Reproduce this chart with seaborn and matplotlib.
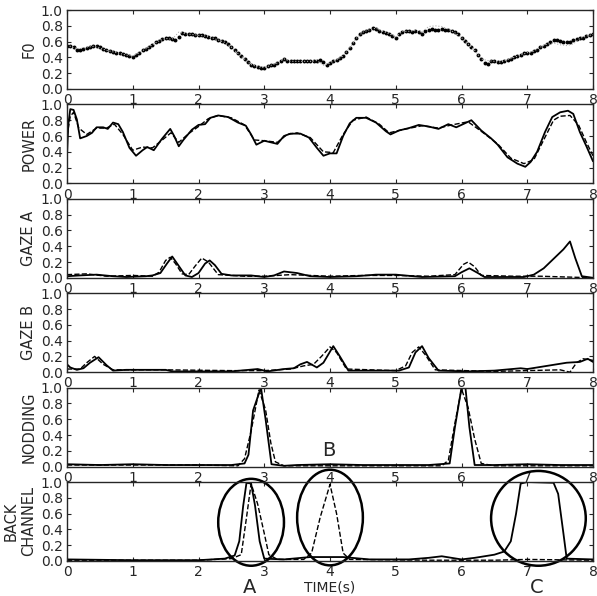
import numpy as np
import matplotlib
matplotlib.use('Agg')
import matplotlib.pyplot as plt
from matplotlib.patches import Ellipse
import seaborn as sns

# F0: measured (dots, every 0.05 s) and predicted (every 0.1 s)
f0_real = [0.55, 0.55, 0.53, 0.50, 0.50, 0.51, 0.52, 0.53, 0.54, 0.54,
           0.53, 0.51, 0.49, 0.48, 0.47, 0.46, 0.45, 0.44, 0.43, 0.42,
           0.41, 0.43, 0.46, 0.49, 0.51, 0.53, 0.56, 0.59, 0.61, 0.63,
           0.64, 0.64, 0.63, 0.62, 0.66, 0.71, 0.70, 0.69, 0.69, 0.68,
           0.68, 0.68, 0.67, 0.66, 0.65, 0.64, 0.62, 0.61, 0.59, 0.57,
           0.53, 0.49, 0.45, 0.42, 0.38, 0.34, 0.31, 0.29, 0.28, 0.26,
           0.27, 0.29, 0.30, 0.31, 0.33, 0.36, 0.38, 0.36, 0.35, 0.35,
           0.35, 0.35, 0.35, 0.35, 0.35, 0.35, 0.36, 0.37, 0.34, 0.31,
           0.33, 0.35, 0.37, 0.39, 0.42, 0.47, 0.52, 0.58, 0.64, 0.69,
           0.72, 0.73, 0.75, 0.77, 0.76, 0.74, 0.72, 0.71, 0.69, 0.67,
           0.64, 0.70, 0.72, 0.73, 0.73, 0.72, 0.73, 0.72, 0.70, 0.73,
           0.75, 0.76, 0.75, 0.75, 0.76, 0.75, 0.75, 0.74, 0.72, 0.69,
           0.65, 0.61, 0.57, 0.53, 0.49, 0.43, 0.38, 0.33, 0.32, 0.35,
           0.35, 0.34, 0.34, 0.35, 0.37, 0.38, 0.40, 0.42, 0.43, 0.45,
           0.45, 0.46, 0.48, 0.50, 0.53, 0.55, 0.57, 0.60, 0.62, 0.62,
           0.61, 0.60, 0.59, 0.60, 0.62, 0.63, 0.64, 0.65, 0.67, 0.68,
           0.69]
f0_pred = [0.56, 0.52, 0.51, 0.53, 0.54, 0.52, 0.49, 0.47, 0.45, 0.43,
           0.42, 0.46, 0.51, 0.56, 0.61, 0.64, 0.63, 0.72, 0.70, 0.69,
           0.68, 0.67, 0.65, 0.62, 0.59, 0.53, 0.45, 0.38, 0.31, 0.28,
           0.27, 0.30, 0.33, 0.38, 0.35, 0.35, 0.35, 0.35, 0.36, 0.30,
           0.33, 0.37, 0.42, 0.52, 0.64, 0.72, 0.75, 0.77, 0.73, 0.70,
           0.66, 0.73, 0.73, 0.74, 0.72, 0.79, 0.80, 0.79, 0.76, 0.71,
           0.65, 0.57, 0.49, 0.38, 0.36, 0.35, 0.34, 0.37, 0.40, 0.43,
           0.46, 0.48, 0.53, 0.57, 0.58, 0.56, 0.55, 0.57, 0.64, 0.67,
           0.69]
t_f0_real = np.round(np.arange(len(f0_real)) * 0.05, 2)
t_f0_pred = np.round(np.arange(len(f0_pred)) * 0.1, 2)

# POWER
t_pow_real = [0.0, 0.02, 0.05, 0.1, 0.15, 0.2, 0.3, 0.38, 0.45, 0.55, 0.62, 0.7, 0.78, 0.85, 0.95,
              1.05, 1.15, 1.22, 1.32, 1.44, 1.57, 1.63, 1.7, 1.77, 1.9, 2.0, 2.1, 2.18, 2.3, 2.45,
              2.6, 2.72, 2.8, 2.88, 3.0, 3.1, 3.2, 3.3, 3.4, 3.55, 3.68, 3.8, 3.9, 4.0, 4.1, 4.2,
              4.3, 4.4, 4.55, 4.7, 4.85, 4.92, 5.05, 5.2, 5.35, 5.5, 5.65, 5.8, 5.92, 6.05, 6.15,
              6.3, 6.45, 6.55, 6.7, 6.85, 6.97, 7.05, 7.15, 7.27, 7.38, 7.5, 7.62, 7.7, 7.8, 7.9, 8.0]
pow_real = [0.35, 0.75, 0.94, 0.93, 0.81, 0.57, 0.60, 0.64, 0.71, 0.71, 0.69, 0.77, 0.75, 0.65, 0.45,
            0.35, 0.42, 0.46, 0.42, 0.56, 0.69, 0.60, 0.47, 0.55, 0.68, 0.74, 0.75, 0.83, 0.86, 0.84,
            0.77, 0.73, 0.62, 0.49, 0.54, 0.52, 0.50, 0.60, 0.63, 0.63, 0.58, 0.45, 0.35, 0.38, 0.38, 0.60,
            0.76, 0.83, 0.83, 0.77, 0.66, 0.62, 0.67, 0.70, 0.74, 0.72, 0.69, 0.75, 0.71, 0.76, 0.80,
            0.67, 0.57, 0.49, 0.33, 0.25, 0.21, 0.27, 0.40, 0.65, 0.84, 0.90, 0.92, 0.88, 0.65, 0.47, 0.28]
t_pow_pred = [0.0, 0.05, 0.1, 0.18, 0.3, 0.45, 0.6, 0.72, 0.85, 1.0, 1.15, 1.3, 1.45, 1.58, 1.7,
              1.85, 2.0, 2.15, 2.3, 2.5, 2.7, 2.85, 3.0, 3.2, 3.35, 3.5, 3.7, 3.9, 4.05, 4.2, 4.35,
              4.55, 4.75, 4.9, 5.1, 5.4, 5.65, 5.85, 6.1, 6.3, 6.55, 6.75, 6.95, 7.1, 7.25, 7.4,
              7.5, 7.65, 7.78, 7.9, 8.0]
pow_pred = [0.60, 0.85, 0.90, 0.70, 0.62, 0.70, 0.70, 0.75, 0.62, 0.42, 0.46, 0.45, 0.55, 0.64, 0.52,
            0.63, 0.72, 0.82, 0.86, 0.83, 0.74, 0.55, 0.54, 0.52, 0.62, 0.64, 0.58, 0.40, 0.39, 0.62, 0.80,
            0.84, 0.75, 0.64, 0.68, 0.73, 0.70, 0.74, 0.78, 0.66, 0.50, 0.32, 0.25, 0.30, 0.55, 0.80,
            0.85, 0.86, 0.74, 0.52, 0.35]

# GAZE A
t_gza_real = [0, 0.2, 0.45, 0.7, 0.9, 1.2, 1.3, 1.42, 1.52, 1.6, 1.7, 1.8, 1.9, 2.0, 2.1, 2.17,
              2.25, 2.35, 2.5, 2.8, 3.0, 3.15, 3.3, 3.5, 3.7, 4.0, 4.4, 4.7, 5.0, 5.4, 5.9, 6.0,
              6.12, 6.25, 6.35, 6.95, 7.1, 7.25, 7.4, 7.55, 7.65, 7.73, 7.83, 8.0]
gza_real = [0.02, 0.03, 0.04, 0.02, 0.01, 0.02, 0.03, 0.06, 0.18, 0.27, 0.15, 0.03, 0.01, 0.06, 0.18, 0.22,
            0.16, 0.05, 0.03, 0.03, 0.01, 0.03, 0.08, 0.06, 0.02, 0.01, 0.02, 0.04, 0.04, 0.01, 0.02, 0.07,
            0.12, 0.06, 0.01, 0.01, 0.04, 0.12, 0.24, 0.36, 0.46, 0.25, 0.02, 0.0]
t_gza_pred = [0, 0.3, 0.6, 1.0, 1.3, 1.4, 1.5, 1.57, 1.65, 1.75, 1.85, 1.95, 2.05, 2.15, 2.3, 2.7,
              3.0, 3.4, 4.0, 4.5, 5.0, 5.5, 5.9, 6.03, 6.1, 6.2, 6.3, 6.8, 7.2, 7.6, 8.0]
gza_pred = [0.04, 0.05, 0.02, 0.03, 0.02, 0.07, 0.22, 0.26, 0.18, 0.05, 0.04, 0.15, 0.25, 0.20, 0.04, 0.02,
            0.02, 0.04, 0.02, 0.03, 0.03, 0.02, 0.04, 0.17, 0.20, 0.14, 0.03, 0.02, 0.02, 0.01, 0.0]

# GAZE B
t_gzb_real = [0, 0.05, 0.15, 0.25, 0.35, 0.48, 0.6, 0.7, 0.9, 1.5, 1.6, 2.5, 2.9, 3.05, 3.3, 3.45,
              3.55, 3.65, 3.8, 3.9, 4.05, 4.15, 4.28, 5.05, 5.2, 5.3, 5.4, 5.5, 5.65, 6.1, 6.5, 6.9,
              7.0, 7.3, 7.6, 7.8, 7.92, 8.0]
gzb_real = [0.10, 0.06, 0.03, 0.05, 0.12, 0.19, 0.09, 0.02, 0.03, 0.03, 0.01, 0.01, 0.04, 0.01, 0.04, 0.05,
            0.10, 0.13, 0.06, 0.12, 0.33, 0.20, 0.02, 0.02, 0.06, 0.25, 0.33, 0.18, 0.02, 0.01, 0.02, 0.05,
            0.04, 0.08, 0.12, 0.13, 0.17, 0.13]
t_gzb_pred = [0, 0.2, 0.3, 0.42, 0.55, 0.7, 1.5, 2.5, 3.0, 3.4, 3.6, 3.75, 3.87, 4.0, 4.1, 4.25,
              5.0, 5.15, 5.25, 5.35, 5.45, 5.6, 6.5, 7.0, 7.5, 7.65, 7.75, 7.85, 8.0]
gzb_pred = [0.04, 0.04, 0.12, 0.20, 0.10, 0.03, 0.03, 0.02, 0.02, 0.04, 0.08, 0.10, 0.20, 0.32, 0.25, 0.04,
            0.02, 0.08, 0.25, 0.32, 0.22, 0.03, 0.01, 0.02, 0.03, 0.0, 0.12, 0.17, 0.15]

# NODDING
t_nod_real = [0, 0.5, 1.0, 1.5, 2.0, 2.5, 2.7, 2.76, 2.83, 2.95, 3.02, 3.11, 3.3, 3.5, 4.0, 4.5,
              5.0, 5.5, 5.82, 5.9, 6.0, 6.06, 6.12, 6.2, 6.5, 7.0, 7.5, 8.0]
nod_real = [0.03, 0.02, 0.03, 0.02, 0.02, 0.02, 0.04, 0.15, 0.71, 1.0, 0.60, 0.03, 0.01, 0.02, 0.03, 0.02,
            0.02, 0.02, 0.04, 0.50, 1.0, 1.0, 0.50, 0.02, 0.02, 0.03, 0.02, 0.02]
t_nod_pred = [0, 1, 2, 2.6, 2.7, 2.8, 2.92, 3.02, 3.1, 3.17, 3.3, 4, 5, 5.7, 5.8, 5.9, 6.0,
              6.1, 6.2, 6.3, 6.5, 8]
nod_pred = [0.02, 0.02, 0.02, 0.01, 0.10, 0.45, 0.97, 0.72, 0.30, 0.06, 0.01, 0.01, 0.01, 0.01, 0.08, 0.55, 0.98,
            0.75, 0.35, 0.04, 0.01, 0.01]

# BACK CHANNEL
t_bc_real = [0, 1, 2, 2.4, 2.55, 2.62, 2.68, 2.73, 2.8, 2.86, 2.93, 3.0, 3.3, 3.7, 4.2, 4.6,
             5.2, 5.5, 5.7, 5.85, 6.0, 6.2, 6.5, 6.65, 6.75, 6.83, 6.9, 7.0, 7.4, 7.47, 7.55, 7.6, 8.0]
bc_real = [0.02, 0.01, 0.01, 0.03, 0.07, 0.25, 0.70, 0.99, 0.98, 0.70, 0.25, 0.03, 0.02, 0.05, 0.05, 0.02,
           0.02, 0.04, 0.06, 0.04, 0.02, 0.04, 0.08, 0.12, 0.25, 0.60, 0.98, 1.0, 0.99, 0.85, 0.35, 0.03, 0.02]
t_bc_pred = [0, 2.0, 2.5, 2.65, 2.73, 2.8, 2.9, 3.0, 3.07, 3.2, 3.6, 3.72, 3.85, 4.0, 4.1, 4.2,
             4.3, 5.5, 6.5, 7.0, 8.0]
bc_pred = [0.01, 0.01, 0.03, 0.08, 0.55, 0.98, 0.72, 0.35, 0.08, 0.02, 0.02, 0.10, 0.55, 0.97, 0.60, 0.10,
           0.02, 0.01, 0.01, 0.02, 0.01]

panel_labels = ['F0', 'POWER', 'GAZE A', 'GAZE B', 'NODDING', 'BACK\nCHANNEL']
x_ticks = [0, 1, 2, 3, 4, 5, 6, 7, 8]
y_ticks = [0.0, 0.2, 0.4, 0.6, 0.8, 1.0]

sns.set_style('ticks')
plt.rcParams['font.family'] = ['DejaVu Sans']
plt.rcParams['xtick.direction'] = 'in'
plt.rcParams['ytick.direction'] = 'in'
plt.rcParams['xtick.top'] = True
plt.rcParams['ytick.right'] = True
plt.rcParams['axes.linewidth'] = 1.0

fig = plt.figure(figsize=(5.97, 5.96), dpi=100)
W, H = 597.0, 596.0
axes = []
for i in range(6):
    top = 10 + 94.4 * i
    ax = fig.add_axes([67 / W, 1 - (top + 79) / H, 526 / W, 79 / H])
    axes.append(ax)

# F0
sns.lineplot(x=t_f0_pred, y=f0_pred, ax=axes[0], color='#b0b0b0', linewidth=0.8, linestyle=':')
sns.scatterplot(x=t_f0_real, y=f0_real, ax=axes[0], color='black', s=8, linewidth=0)

series = [
    (t_pow_real, pow_real, t_pow_pred, pow_pred),
    (t_gza_real, gza_real, t_gza_pred, gza_pred),
    (t_gzb_real, gzb_real, t_gzb_pred, gzb_pred),
    (t_nod_real, nod_real, t_nod_pred, nod_pred),
    (t_bc_real, bc_real, t_bc_pred, bc_pred),
]
for ax, (tr, vr, tp, vp) in zip(axes[1:], series):
    sns.lineplot(x=tp, y=vp, ax=ax, color='black', linewidth=1.0, linestyle='--')
    sns.lineplot(x=tr, y=vr, ax=ax, color='black', linewidth=1.3)

for ax, lab in zip(axes, panel_labels):
    ax.set_xlim(0, 8)
    ax.set_ylim(0, 1)
    ax.set_xticks(x_ticks)
    ax.set_yticks(y_ticks)
    ax.set_xticklabels([str(v) for v in x_ticks], fontsize=10)
    ax.set_yticklabels(['%.1f' % v for v in y_ticks], fontsize=10)
    ax.tick_params(length=3, width=0.8, pad=3)
    ax.set_ylabel(lab, fontsize=10.5)
    ax.yaxis.set_label_coords(-0.058, 0.5)
    ax.set_xlabel('')

# circled regions on the back channel panel
bc = axes[5]
for cx, cy, w, h in [(2.80, 0.49, 1.0, 1.10), (4.0, 0.55, 1.0, 1.21), (7.17, 0.54, 1.44, 1.2)]:
    bc.add_patch(Ellipse((cx, cy), w, h, fill=False, edgecolor='black', linewidth=1.8, clip_on=False))
bc.text(2.78, -0.34, 'A', fontsize=14, ha='center', va='center')
bc.text(7.15, -0.34, 'C', fontsize=14, ha='center', va='center')
bc.text(4.0, -0.34, 'TIME(s)', fontsize=10, ha='center', va='center')
axes[4].text(3.98, 0.2, 'B', fontsize=14, ha='center', va='center')

fig.savefig('out.png', dpi=100)
